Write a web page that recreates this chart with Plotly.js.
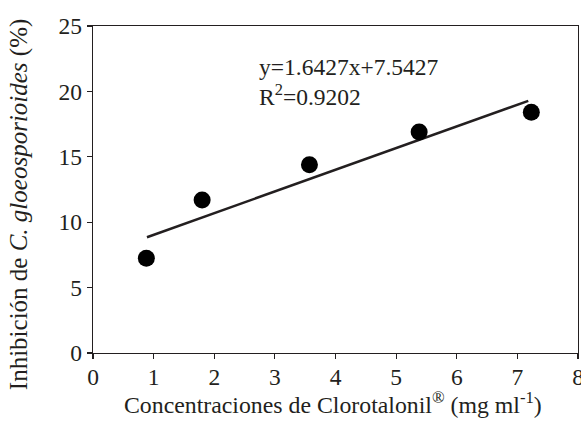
<!DOCTYPE html>
<html>
<head>
<meta charset="utf-8">
<script src="https://cdn.plot.ly/plotly-3.0.1.min.js"></script>
<style>html,body{margin:0;padding:0;background:#fff;}#chart{width:581px;height:423px;}</style>
</head>
<body>
<div id="chart"></div>
<script>
// Observed data points
const concentrations = [0.88, 1.80, 3.57, 5.38, 7.23];
const inhibition = [7.25, 11.7, 14.4, 16.9, 18.4];
// Trend line endpoints as drawn
const trendX = [0.89, 7.18];
const trendY = [8.85, 19.28];
const xTicks = [0, 1, 2, 3, 4, 5, 6, 7, 8];
const yTicks = [0, 5, 10, 15, 20, 25];
const equationText = "y=1.6427x+7.5427";
const r2Text = "R<sup>2</sup>=0.9202";

const ink = "#231f20";
const serif = "Liberation Serif, Times New Roman, serif";

const traces = [
  {x: trendX, y: trendY, mode: "lines", type: "scatter",
   line: {color: ink, width: 2.5}, hoverinfo: "skip"},
  {x: concentrations, y: inhibition, mode: "markers", type: "scatter",
   marker: {color: "#000", size: 17}}
];

const layout = {
  width: 581, height: 423,
  margin: {l: 92.7, r: 3.3, t: 25.7, b: 69.5},
  paper_bgcolor: "#fff", plot_bgcolor: "#fff",
  showlegend: false,
  font: {family: serif, color: ink, size: 22},
  xaxis: {range: [0, 8], tickvals: xTicks, ticktext: xTicks.map(String),
    showgrid: false, zeroline: false, showline: true, mirror: true,
    linecolor: ink, linewidth: 1.3, ticks: "outside", ticklen: 5, tickwidth: 1.2,
    tickcolor: ink, ticklabeloverflow: "allow", ticklabelstandoff: -3,
    tickfont: {family: serif, size: 23.5, color: ink}},
  yaxis: {range: [0, 25], tickvals: yTicks, ticktext: yTicks.map(String),
    showgrid: false, zeroline: false, showline: true, mirror: true,
    linecolor: ink, linewidth: 1.3, ticks: "outside", ticklen: 5, tickwidth: 1.2,
    tickcolor: ink, tickfont: {family: serif, size: 23.5, color: ink}},
  annotations: [
    {xref: "paper", yref: "paper", x: 0.338, y: 0.875, xanchor: "left", yanchor: "middle",
     text: equationText, showarrow: false, font: {family: serif, size: 23.5, color: ink}},
    {xref: "paper", yref: "paper", x: 0.338, y: 0.79, xanchor: "left", yanchor: "middle",
     text: r2Text, showarrow: false, font: {family: serif, size: 23.5, color: ink}},
    {xref: "paper", yref: "paper", x: 0.495, y: -0.153, xanchor: "center", yanchor: "middle",
     text: "Concentraciones de Clorotalonil<sup>®</sup> (mg ml<sup>-1</sup>)", showarrow: false,
     font: {family: serif, size: 23.8, color: ink}},
    {xref: "paper", yref: "paper", x: -0.152, y: 0.456, xanchor: "center", yanchor: "middle",
     textangle: -90, text: "Inhibición de <i>C. gloeosporioides</i> (%)", showarrow: false,
     font: {family: serif, size: 25, color: ink}}
  ]
};

Plotly.newPlot("chart", traces, layout, {displayModeBar: false, staticPlot: true});
</script>
</body>
</html>
